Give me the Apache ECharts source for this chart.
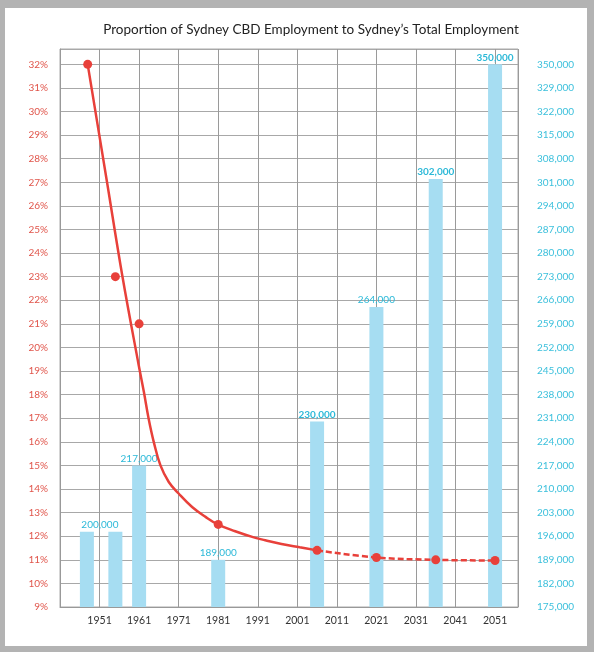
<!DOCTYPE html>
<html>
<head>
<meta charset="utf-8">
<script src="https://cdn.jsdelivr.net/npm/echarts@6/dist/echarts.min.js"></script>
<style>
html, body { margin: 0; padding: 0; background: #b3b3b3; }
#frame { position: absolute; left: 5px; top: 8px; width: 582px; height: 638px; background: #fff; }
#chart { position: absolute; left: 0; top: 0; width: 594px; height: 652px; }
</style>
</head>
<body>
<div id="frame"></div>
<div id="chart"></div>
<script>
// 数据
var pointYears = [1948, 1955, 1961, 1981, 2006, 2021, 2036, 2051];
var cbdShare = [32, 23, 21, 12.5, 11.4, 11.1, 11.0, 10.97];

var barYears = [1947.8, 1955, 1961, 1981, 2006, 2021, 2036, 2051];
var employment = [197300, 197300, 217000, 189000, 230000, 264000, 302000, 336000];
var barLabels = ['200,000', '', '217,000', '189,000', '230,000', '264,000', '302,000', '350,000'];

// 趋势线（实线部分 / 虚线部分）
var trendYears = [1948, 1952.8, 1956.8, 1960.9, 1962.2, 1963.4, 1964.7, 1966.4, 1968.5, 1971, 1974.4, 1977.8,
	1981, 1985.3, 1989.6, 1992.9, 1997, 2001.6, 2006];
var trendShare = [32, 27.1, 23, 19.25, 18.12, 16.99, 16.0, 15.0, 14.3, 13.81, 13.24, 12.82,
	12.49, 12.21, 11.97, 11.83, 11.67, 11.53, 11.4];
var projYears = [2006, 2021, 2036, 2051];
var projShare = [11.4, 11.1, 11.0, 10.97];

var leftTicks = ['9%', '10%', '11%', '12%', '13%', '14%', '15%', '16%', '17%', '18%', '19%', '20%',
	'21%', '22%', '23%', '24%', '25%', '26%', '27%', '28%', '29%', '30%', '31%', '32%'];
var rightTicks = ['175,000', '182,000', '189,000', '196,000', '203,000', '210,000', '217,000', '224,000',
	'231,000', '238,000', '245,000', '252,000', '259,000', '266,000', '273,000', '280,000', '287,000',
	'294,000', '301,000', '308,000', '315,000', '322,000', '329,000', '350,000'];

var X0 = 1941;   // x 轴以 1941 为零点
var boldIdx = [4, 6, 7];

function pairs(xs, ys) {
	return xs.map(function (x, i) { return [x - X0, ys[i]]; });
}

var barData = barYears.map(function (x, i) {
	var item = { value: [x - X0, employment[i]], label: { fontWeight: boldIdx.indexOf(i) >= 0 ? 'bold' : 'normal' } };
	if (i === 0) item.label.offset = [13, 0];
	return item;
});

var chart = echarts.init(document.getElementById('chart'));
chart.setOption({
	backgroundColor: 'transparent',
	animation: false,
	textStyle: { fontFamily: 'Lato, "Liberation Sans", sans-serif' },
	title: {
		text: 'Proportion of Sydney CBD Employment to Sydney\u2019s Total Employment',
		left: 306, top: 18, textAlign: 'center',
		textStyle: { fontSize: 13.5, fontWeight: 'normal', color: '#222' }
	},
	grid: {
		left: 60, right: 76, top: 49, bottom: 45,
		show: true, borderColor: '#aaa', borderWidth: 1
	},
	xAxis: {
		type: 'value', min: 0, max: 115.8, interval: 10,
		axisLine: { show: true, lineStyle: { color: '#999' } },
		axisTick: { show: false },
		splitLine: { show: true, lineStyle: { color: '#9a9a9a', width: 1 } },
		axisLabel: {
			color: '#333', fontSize: 10.5, margin: 8,
			formatter: function (v) { return (v > 0 && v % 10 === 0) ? String(v + X0) : ''; }
		}
	},
	yAxis: [{
		type: 'value', min: 9, max: 32.65, interval: 1,
		axisLine: { show: true, lineStyle: { color: '#999' } },
		axisTick: { show: false },
		splitLine: { show: true, lineStyle: { color: '#a8a8a8', width: 1 } },
		axisLabel: {
			color: '#e0554b', fontSize: 10, margin: 12,
			formatter: function (v) {
				var i = Math.round(v - 9);
				return Math.abs(v - 9 - i) < 1e-6 && leftTicks[i] ? leftTicks[i] : '';
			}
		}
	}, {
		type: 'value', min: 175000, max: 175000 + 23.65 * 7000, interval: 7000,
		position: 'right',
		axisLine: { show: false },
		axisTick: { show: false },
		splitLine: { show: false },
		axisLabel: {
			color: '#3cc0dc', fontSize: 10, margin: 19, align: 'left',
			formatter: function (v) {
				var i = Math.round((v - 175000) / 7000);
				return Math.abs((v - 175000) / 7000 - i) < 1e-6 && rightTicks[i] ? rightTicks[i] : '';
			}
		}
	}],
	series: [{
		type: 'bar',
		yAxisIndex: 1,
		barWidth: 14,
		itemStyle: { color: '#a6ddf2' },
		label: {
			show: true, position: 'top', distance: 2,
			color: '#2cb9d8', fontSize: 10,
			formatter: function (p) { return barLabels[p.dataIndex]; }
		},
		data: barData,
		z: 1
	}, {
		type: 'line',
		data: pairs(trendYears, trendShare),
		smooth: 0.4,
		symbol: 'none',
		lineStyle: { color: '#e8403a', width: 2.5 },
		z: 3
	}, {
		type: 'line',
		data: pairs(projYears, projShare),
		smooth: 0.4,
		symbol: 'none',
		lineStyle: { color: '#e8403a', width: 2.5, type: [6, 3] },
		z: 3
	}, {
		type: 'scatter',
		data: pairs(pointYears, cbdShare),
		symbolSize: 9,
		itemStyle: { color: '#e8403a', opacity: 1 },
		z: 4
	}]
});
</script>
</body>
</html>
